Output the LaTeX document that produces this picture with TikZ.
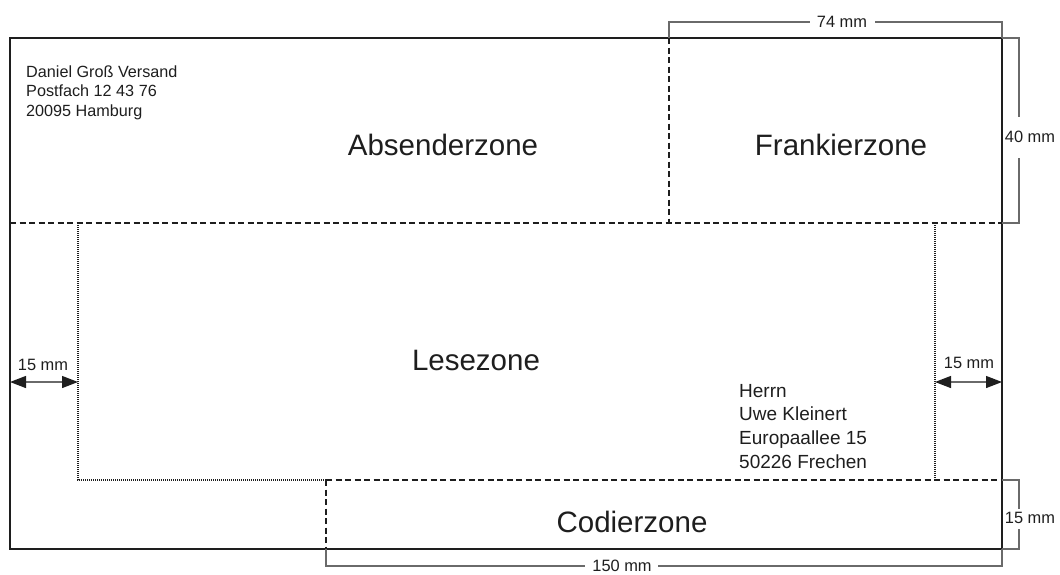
\documentclass[tikz,border=0pt]{standalone}
\usepackage{fontspec}
\setmainfont{Liberation Sans}
\usetikzlibrary{arrows.meta}
\definecolor{ink}{HTML}{1E1E1E}
\definecolor{dimgray}{HTML}{6A6A6A}
\tikzset{
  frame/.style={draw=ink, line width=2.6pt},
  zonedash/.style={draw=ink, line width=2.6pt, dash pattern=on 6pt off 3.5pt},
  zonedot/.style={draw=ink, line width=2pt, dash pattern=on 1pt off 1pt},
  dimline/.style={draw=dimgray, line width=1.3pt},
  zonelabel/.style={font=\fontsize{29.5}{32}\selectfont, text=ink, inner sep=0pt},
  addrtext/.style={text=ink, align=left, inner sep=0pt, anchor=north west},
  dimlabel/.style={font=\fontsize{16.4}{18}\selectfont, text=ink, inner sep=0pt},
  dimarrow/.style={draw=dimgray, line width=1.3pt,
    {Triangle[length=16pt,width=12pt,color=ink]}-{Triangle[length=16pt,width=12pt,color=ink]}}
}
\begin{document}
\begin{tikzpicture}[x=1pt,y=-1pt]
\useasboundingbox (0,0) rectangle (1060,574);
% corners
\coordinate (TL) at (10,38);
\coordinate (TR) at (1002,38);
\coordinate (BL) at (10,549);
\coordinate (BR) at (1002,549);
\coordinate (ML) at (10,223);
\coordinate (MR) at (1002,223);
\coordinate (FT) at (669,38);
\coordinate (FB) at (669,223);
\coordinate (LT) at (78,223);
\coordinate (LB) at (78,480);
\coordinate (RT) at (935,223);
\coordinate (RB) at (935,480);
\coordinate (CT) at (326,480);
\coordinate (CB) at (326,549);
\coordinate (CR) at (1002,480);

% zone separators
\draw[zonedash] (ML) -- (MR);
\draw[zonedash] (FT) -- (FB);
\draw[zonedot] (LT) -- (LB) -- (CT);
\draw[zonedot] (RT) -- (RB);
\draw[zonedash] (CT) -- (CR);
\draw[zonedash] (CT) -- (CB);
% envelope
\draw[frame] (TL) rectangle (BR);

% zone labels
\node[zonelabel] (abs) at (443,145) {Absenderzone};
\node[zonelabel] (fra) at (841,145) {Frankierzone};
\node[zonelabel] (les) at (476,360) {Lesezone};
\node[zonelabel] (cod) at (632,522) {Codierzone};

% addresses
\node[addrtext, font=\fontsize{16.2}{19.5}\selectfont] (sender) at (26,65.5)
  {Daniel Groß Versand\\Postfach 12 43 76\\20095 Hamburg};
\node[addrtext, font=\fontsize{19}{23.7}\selectfont] (recv) at (739,384)
  {Herrn\\Uwe Kleinert\\Europaallee 15\\50226 Frechen};

% 74 mm
\node[dimlabel] (d74) at (842,22) {74 mm};
\coordinate (d74a) at (669,22);
\coordinate (d74b) at (1002,22);
\draw[dimline] (FT) -- (d74a) -- ([xshift=-7pt]d74.west |- d74a);
\draw[dimline] ([xshift=8pt]d74.east |- d74b) -- (d74b) -- (TR);

% 40 mm
\node[dimlabel] (d40) at (1030,137) {40 mm};
\coordinate (d40a) at (1019,38);
\coordinate (d40b) at (1019,223);
\draw[dimline] (TR) -- (d40a) -- (1019,117);
\draw[dimline] (1019,158) -- (d40b) -- (MR);

% 15 mm right bottom
\node[dimlabel] (d15c) at (1030,518) {15 mm};
\coordinate (d15a) at (1019,480);
\coordinate (d15b) at (1019,549);
\draw[dimline] (CR) -- (d15a) -- (1019,509);
\draw[dimline] (1019,529) -- (d15b) -- (BR);

% 150 mm
\node[dimlabel] (d150) at (622,566) {150 mm};
\coordinate (d150a) at (326,566);
\coordinate (d150b) at (1002,566);
\draw[dimline] (CB) -- (d150a) -- (585,566);
\draw[dimline] (658,566) -- (d150b) -- (BR);

% 15 mm side arrows
\node[dimlabel] (d15l) at (43,365) {15 mm};
\coordinate (al) at (10,382);
\coordinate (ar) at (78,382);
\draw[dimarrow] (al) -- (ar);
\node[dimlabel] (d15r) at (969,363) {15 mm};
\coordinate (bl) at (935,382);
\coordinate (br) at (1002,382);
\draw[dimarrow] (bl) -- (br);
\end{tikzpicture}
\end{document}
